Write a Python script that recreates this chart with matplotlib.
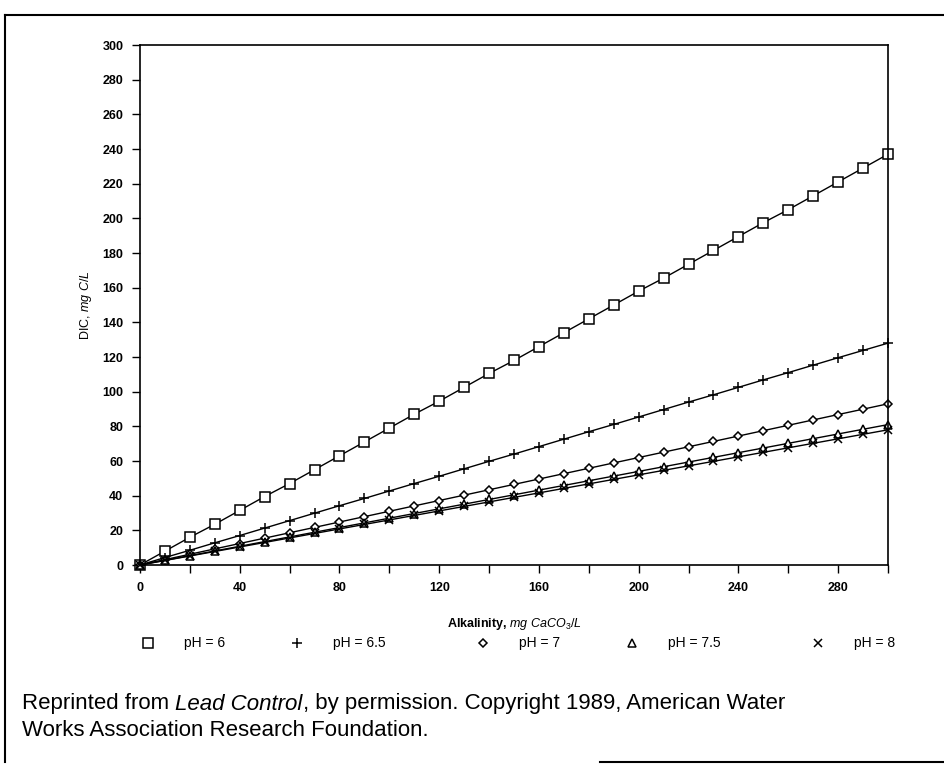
import matplotlib
matplotlib.use('Agg')
import matplotlib.pyplot as plt
from matplotlib.lines import Line2D

plt.rcParams['font.family'] = ['Liberation Sans', 'DejaVu Sans']
plt.rcParams['mathtext.fontset'] = 'custom'
plt.rcParams['mathtext.rm'] = 'Liberation Sans'
plt.rcParams['mathtext.it'] = 'Liberation Sans:italic'
plt.rcParams['mathtext.bf'] = 'Liberation Sans:bold'

# alkalinity, mg CaCO3/L
alk = [0, 10, 20, 30, 40, 50, 60, 70, 80, 90, 100, 110, 120, 130, 140, 150,
       160, 170, 180, 190, 200, 210, 220, 230, 240, 250, 260, 270, 280, 290, 300]

# DIC, mg C/L
dic_ph6 = [0, 8, 16, 23.5, 31.5, 39.5, 47, 55, 63, 71, 79, 87, 94.5, 102.5, 110.5, 118,
           126, 134, 142, 150, 158, 165.5, 173.5, 181.5, 189.5, 197.5, 205, 213, 221, 229, 237]
dic_ph65 = [0, 4.3, 8.5, 12.8, 17, 21.3, 25.6, 29.9, 34.2, 38.4, 42.7, 47, 51.2, 55.5, 59.8, 64,
            68.3, 72.6, 76.9, 81.1, 85.4, 89.7, 94, 98.2, 102.5, 106.8, 111, 115.3, 119.6, 123.8, 128]
dic_ph7 = [0, 3.1, 6.2, 9.3, 12.4, 15.5, 18.6, 21.7, 24.8, 27.9, 31, 34.1, 37.2, 40.3, 43.4, 46.5,
           49.6, 52.7, 55.8, 58.9, 62, 65.1, 68.2, 71.3, 74.4, 77.5, 80.6, 83.7, 86.8, 89.9, 93]
dic_ph75 = [0, 2.7, 5.4, 8.1, 10.8, 13.5, 16.2, 18.9, 21.6, 24.3, 27, 29.7, 32.4, 35.1, 37.8, 40.5,
            43.2, 45.9, 48.6, 51.3, 54, 56.7, 59.4, 62.1, 64.8, 67.5, 70.2, 72.9, 75.6, 78.3, 81]
dic_ph8 = [0, 2.6, 5.2, 7.8, 10.4, 13, 15.6, 18.2, 20.8, 23.4, 26, 28.6, 31.2, 33.8, 36.4, 39,
           41.6, 44.2, 46.8, 49.4, 52, 54.6, 57.2, 59.8, 62.4, 65, 67.6, 70.2, 72.8, 75.4, 78]

series = [
    (dic_ph6, 's', 'pH = 6', 7),
    (dic_ph65, '+', 'pH = 6.5', 7),
    (dic_ph7, 'D', 'pH = 7', 4.5),
    (dic_ph75, '^', 'pH = 7.5', 6),
    (dic_ph8, 'x', 'pH = 8', 6),
]

fig = plt.figure(figsize=(9.45, 7.73), dpi=100)
ax = fig.add_axes([140/945, 1 - 565/773, 748/945, 520/773])

for ys, mk, lab, ms in series:
    ax.plot(alk, ys, color='black', lw=1, marker=mk, ms=ms,
            mfc='white' if mk in 'sD^' else 'black', mec='black', mew=1.1,
            clip_on=False)

ax.set_xlim(0, 300)
ax.set_ylim(0, 300)
ax.set_xticks(range(0, 301, 40))
ax.set_xticks(range(20, 301, 40), minor=True)
ax.set_yticks(range(0, 301, 20))
ax.tick_params(direction='out', length=6, width=1, labelsize=9, pad=6)
ax.tick_params(which='minor', direction='out', length=6, width=1)
for lbl in ax.get_xticklabels() + ax.get_yticklabels():
    lbl.set_fontweight('bold')
for s in ax.spines.values():
    s.set_linewidth(1.2)

ax.set_xlabel(r'Alkalinity, $\mathit{mg\ CaCO_3/L}$', fontsize=9, fontweight='bold', labelpad=16)
ax.set_ylabel(r'DIC, $\mathit{mg\ C/L}$', fontsize=9, labelpad=6)

# legend row beneath the axis label
leg_x = [148, 297, 483, 632, 818]
for (ys, mk, lab, ms), x in zip(series, leg_x):
    fig.add_artist(Line2D([x / 945], [1 - 643 / 773], marker=mk, ms=ms, color='black',
                          mfc='white' if mk in 'sD^' else 'black', mew=1.1,
                          transform=fig.transFigure))
    fig.text((x + 36) / 945, 1 - 643 / 773, lab, fontsize=10, va='center')

# footnote with italic title
fig.canvas.draw()
r = fig.canvas.get_renderer()
x0 = 22 / 945
y1 = 1 - 704 / 773
parts = [('Reprinted from ', 'normal'), ('Lead Control', 'italic'),
         (', by permission. Copyright 1989, American Water', 'normal')]
x = x0
for txt, st in parts:
    t = fig.text(x, y1, txt, fontsize=16, style=st, va='center')
    bb = t.get_window_extent(renderer=r)
    x += bb.width / fig.bbox.width
fig.text(x0, 1 - 731 / 773, 'Works Association Research Foundation.', fontsize=16, va='center')

# outer frame
fig.add_artist(Line2D([5 / 945, 1], [1 - 15 / 773, 1 - 15 / 773], color='black', lw=1.5,
                      transform=fig.transFigure))
fig.add_artist(Line2D([5 / 945, 5 / 945], [1 - 15 / 773, 1 - 762 / 773], color='black', lw=1.5,
                      transform=fig.transFigure))
fig.add_artist(Line2D([600 / 945, 1], [1 - 762 / 773, 1 - 762 / 773], color='black', lw=1.5,
                      transform=fig.transFigure))

fig.savefig('out.png', dpi=100)
